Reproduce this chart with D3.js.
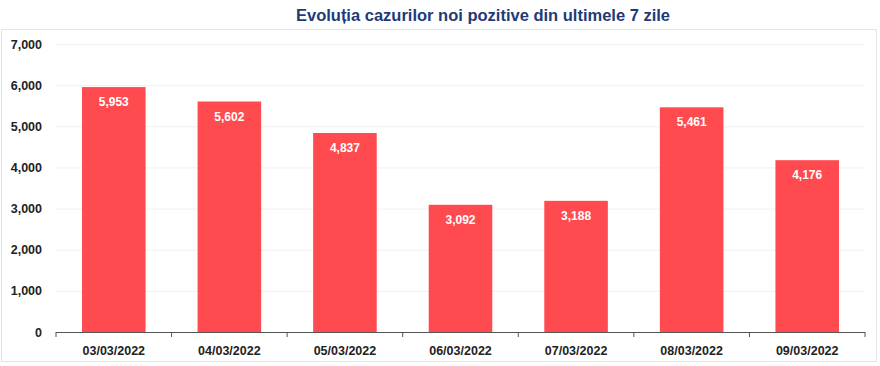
<!DOCTYPE html>
<html><head><meta charset="utf-8">
<script src="https://cdn.jsdelivr.net/npm/d3@7"></script>
<style>body{margin:0;background:#fff;font-family:"Liberation Sans",Arial,sans-serif;}</style>
</head><body><svg id="c" width="880" height="366"></svg>
<script>
const categories = ["03/03/2022","04/03/2022","05/03/2022","06/03/2022","07/03/2022","08/03/2022","09/03/2022"];
const values = [5953,5602,4837,3092,3188,5461,4176];
const yTicks = [0,1000,2000,3000,4000,5000,6000,7000];
const title = "Evoluția cazurilor noi pozitive din ultimele 7 zile";

const svg = d3.select("#c");
const fmt = d3.format(",");
svg.append("rect").attr("x",1.5).attr("y",29.5).attr("width",875).attr("height",332)
  .attr("fill","none").attr("stroke","#e4e4e4");
svg.append("text").attr("x",483).attr("y",21).attr("text-anchor","middle")
  .attr("font-size",16.5).attr("font-weight","bold").attr("fill","#1f3a78").text(title);

const x = d3.scaleBand().domain(categories).range([56,865]).paddingInner(0.45).paddingOuter(0.225);
const y = d3.scaleLinear().domain([0,7000]).range([332,44]);

svg.append("g").selectAll("line").data(yTicks.slice(1)).join("line")
  .attr("x1",56).attr("x2",865).attr("y1",d=>y(d)+0.5).attr("y2",d=>y(d)+0.5)
  .attr("stroke","#f0f0f0");

svg.append("g").selectAll("text").data(yTicks).join("text")
  .attr("x",42).attr("y",d=>y(d)+4.5).attr("text-anchor","end")
  .attr("font-size",12.5).attr("font-weight","bold").attr("fill","#222").text(d=>fmt(d));

svg.append("g").selectAll("rect").data(values).join("rect")
  .attr("x",(d,i)=>x(categories[i])).attr("width",x.bandwidth())
  .attr("y",d=>y(d)).attr("height",d=>y(0)-y(d)).attr("fill","#ff4b4f");

svg.append("g").selectAll("text").data(values).join("text")
  .attr("x",(d,i)=>x(categories[i])+x.bandwidth()/2).attr("y",d=>y(d)+19)
  .attr("text-anchor","middle").attr("font-size",12).attr("font-weight","bold")
  .attr("fill","#fff").text(d=>fmt(d));

const xs = d3.scaleLinear().domain([0,7]).range([56,865]);
const ax = svg.append("g");
ax.append("line").attr("x1",56).attr("x2",865).attr("y1",332.5).attr("y2",332.5).attr("stroke","#555").attr("stroke-width",1.2);
ax.selectAll("line.t").data(d3.range(8)).join("line").attr("class","t")
  .attr("x1",d=>xs(d)).attr("x2",d=>xs(d)).attr("y1",332).attr("y2",337).attr("stroke","#555");
ax.selectAll("text").data(categories).join("text")
  .attr("x",d=>x(d)+x.bandwidth()/2).attr("y",355).attr("text-anchor","middle")
  .attr("font-size",12.5).attr("font-weight","bold").attr("fill","#222").text(d=>d);
</script></body></html>
